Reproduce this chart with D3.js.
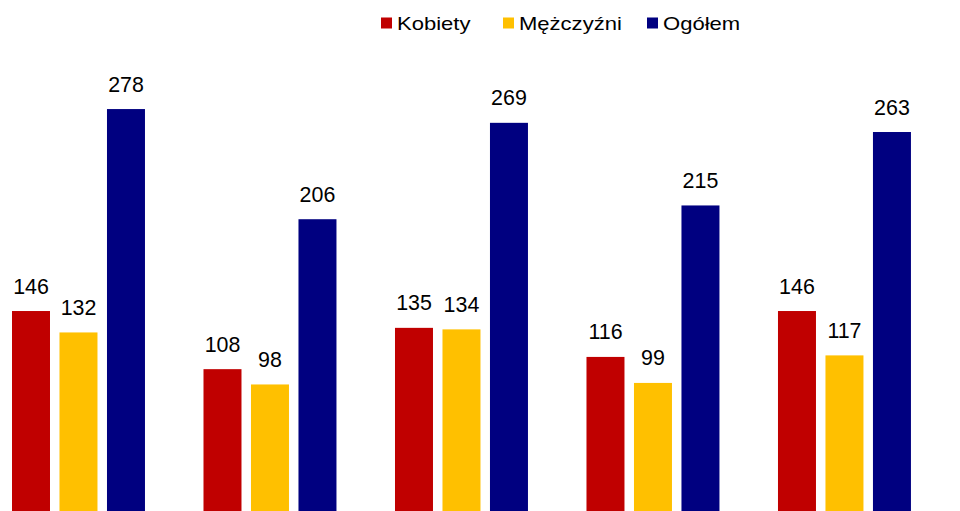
<!DOCTYPE html>
<html>
<head>
<meta charset="utf-8">
<script src="https://cdn.jsdelivr.net/npm/d3@7"></script>
<style>
  body { margin: 0; background: #fff; }
  svg { display: block; font-family: "Liberation Sans", Arial, sans-serif; }
</style>
</head>
<body>
<div class="chart"></div>
<script>
// groups have no visible labels in the picture
const groups = ["1", "2", "3", "4", "5"];
const series = ["Kobiety", "Mężczyźni", "Ogółem"];
const kobiety = [146, 108, 135, 116, 146];
const mezczyzni = [132, 98, 134, 99, 117];
const ogolem = [278, 206, 269, 215, 263];
const colors = ["#C00000", "#FFC000", "#000080"];

const values = [kobiety, mezczyzni, ogolem];
const data = groups.map((g, i) => ({
    group: g,
    vals: series.map((s, j) => ({ key: s, value: values[j][i] }))
}));

const width = 960;
const height = 511;

const svg = d3.select(".chart")
    .append("svg")
    .attr("width", width)
    .attr("height", height);

const x0 = d3.scaleBand()
    .domain(groups)
    .range([7.25, 915.7])
    .paddingInner(0.256)
    .paddingOuter(0);

const x1 = d3.scaleBand()
    .domain(series)
    .range([0, x0.bandwidth()])
    .paddingInner(0.2)
    .paddingOuter(0.1);

const color = d3.scaleOrdinal().domain(series).range(colors);

// baseline sits below the visible area (chart is cropped)
const y = d3.scaleLinear()
    .domain([0, 300])
    .range([534.4, 75.4]);

const g = svg.append("g")
    .selectAll("g")
    .data(data)
    .join("g")
    .attr("transform", d => `translate(${x0(d.group)},0)`);

g.selectAll("rect")
    .data(d => d.vals)
    .join("rect")
    .attr("x", d => x1(d.key))
    .attr("y", d => y(d.value))
    .attr("width", x1.bandwidth())
    .attr("height", d => y(0) - y(d.value))
    .attr("fill", d => color(d.key));

g.selectAll("text")
    .data(d => d.vals)
    .join("text")
    .attr("x", d => x1(d.key) + x1.bandwidth() / 2)
    .attr("y", d => y(d.value) - 17.5)
    .attr("text-anchor", "middle")
    .attr("font-size", 21.4)
    .attr("fill", "#000")
    .text(d => d.value);

// legend
const legendX = [381, 503, 647];
const legend = svg.append("g")
    .selectAll("g")
    .data(series)
    .join("g")
    .attr("transform", (d, i) => `translate(${legendX[i]},0)`);

legend.append("rect")
    .attr("x", 0)
    .attr("y", 17.5)
    .attr("width", 11)
    .attr("height", 11)
    .attr("fill", d => color(d));

legend.append("text")
    .attr("transform", "translate(16,29.5) scale(1.16,1)")
    .attr("font-size", 19)
    .attr("fill", "#000")
    .text(d => d);
</script>
</body>
</html>
